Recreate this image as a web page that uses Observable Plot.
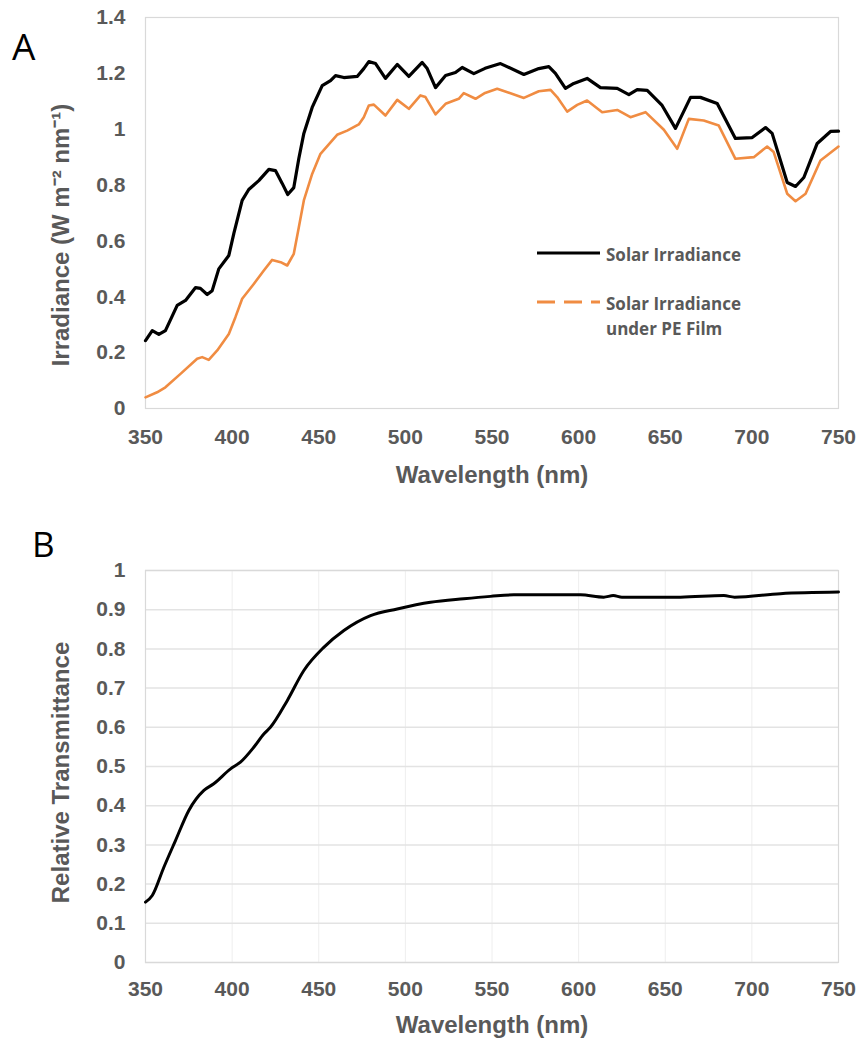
<!DOCTYPE html>
<html>
<head>
<meta charset="utf-8">
<script src="https://cdn.jsdelivr.net/npm/d3@7"></script>
<script src="https://cdn.jsdelivr.net/npm/@observablehq/plot@0.6"></script>
<style>
  html, body { margin: 0; padding: 0; background: #fff; }
  #wrap { position: relative; width: 865px; height: 1045px; overflow: hidden; font-family: "Liberation Sans", Arial, sans-serif; }
  .panel { position: absolute; left: 0; }
  .letter { position: absolute; font-family: "Open Sans", "Liberation Sans", sans-serif; font-weight: 400; color: #000; line-height: 1; }
  .legend { position: absolute; left: 537px; font-family: "Open Sans", sans-serif; font-weight: 700; font-size: 17px; color: #595959; }
  .legend .row { position: absolute; left: 0; white-space: nowrap; display: flex; align-items: flex-start; }
  .legend svg { display: block; margin-right: 6px; }
</style>
</head>
<body>
<div id="wrap">
  <div id="panelA" class="panel" style="top:0"></div>
  <div id="panelB" class="panel" style="top:500px"></div>
  <div class="letter" style="left:12px; top:27px; font-size:37px;">A</div>
  <div class="letter" style="left:32px; top:526px; font-size:35px;">B</div>
  <div class="legend" id="legend" style="top:242px;"></div>
</div>
<script>
// ---------- Data ----------
const xTicks = [350, 400, 450, 500, 550, 600, 650, 700, 750];
const yTicksA = [0, 0.2, 0.4, 0.6, 0.8, 1, 1.2, 1.4];
const yTicksB = [0, 0.1, 0.2, 0.3, 0.4, 0.5, 0.6, 0.7, 0.8, 0.9, 1];

const seriesNames = ["Solar Irradiance", "Solar Irradiance under PE Film"];

const solarWl = [350,353.9,357.7,361.5,368.3,373.1,378.9,381.7,385.6,388.5,392.3,398.1,401,405.8,409.6,415.4,421.2,425,428.9,432.1,435.6,438.5,441.4,446.2,452,456.8,459.7,464.5,472.2,476,478.9,482.8,488.5,495.3,502,509.7,512.6,517.4,523.2,528.9,532.8,539.5,546,554.9,568.4,577,582.8,586.6,592.4,597.2,604.9,612.6,622.3,629,633.8,639.6,648.2,655.9,664.6,670.3,680,690.5,700.2,707.9,711.7,720.4,725.2,730,737.7,745.4,750];
const solarVal = [0.243,0.279,0.265,0.279,0.369,0.387,0.433,0.43,0.408,0.422,0.5,0.548,0.627,0.745,0.784,0.816,0.856,0.852,0.806,0.766,0.791,0.895,0.985,1.078,1.156,1.174,1.192,1.185,1.189,1.217,1.242,1.235,1.182,1.232,1.189,1.239,1.217,1.149,1.192,1.203,1.221,1.199,1.218,1.235,1.196,1.217,1.224,1.2,1.146,1.164,1.182,1.149,1.146,1.124,1.142,1.139,1.085,1.003,1.114,1.114,1.092,0.967,0.97,1.006,0.985,0.809,0.795,0.827,0.949,0.992,0.993];

const peWl = [350,356.7,361.5,370.2,379.8,382.7,386.5,391.4,398.1,401.9,405.8,412.5,418.3,423.1,428,431.8,435.6,438.5,441.4,446.2,451,456.8,460.6,466.4,473.1,476,478.9,481.8,488.5,495.3,502,508.7,511.6,517.4,523.2,530.8,533.7,540.5,546,553,568.4,577,583.8,587.6,593.4,599.2,604.9,613.6,622.3,629.9,638.6,649.2,656.9,663.6,672.2,680.9,690.5,701.1,708.8,712.6,720.4,725.2,731,739.6,750];
const peVal = [0.04,0.058,0.076,0.124,0.178,0.184,0.174,0.208,0.267,0.327,0.393,0.446,0.494,0.532,0.524,0.512,0.554,0.649,0.745,0.84,0.912,0.953,0.98,0.995,1.017,1.043,1.085,1.088,1.049,1.105,1.073,1.121,1.115,1.053,1.091,1.109,1.129,1.109,1.13,1.145,1.112,1.136,1.141,1.115,1.063,1.087,1.103,1.061,1.069,1.043,1.061,0.998,0.93,1.037,1.031,1.013,0.894,0.9,0.938,0.918,0.769,0.742,0.769,0.888,0.938];

const transWl = [350,353.9,360.6,367.3,375,383.7,389.4,399.1,404.8,412.5,418.3,422.1,431.8,441.4,452.9,464.5,479.9,495.3,514.5,533.7,549.1,562.6,601.1,614.5,620,625,658.8,683.8,690,716.5,750];
const transVal = [0.154,0.171,0.243,0.311,0.388,0.439,0.456,0.494,0.511,0.549,0.583,0.6,0.668,0.745,0.804,0.847,0.885,0.902,0.919,0.928,0.934,0.938,0.938,0.932,0.936,0.932,0.932,0.936,0.932,0.941,0.945];

const colors = ["#000000", "#F08C42"];

// ---------- Build tables ----------
const solar = solarWl.map((w, i) => ({wl: w, v: solarVal[i]}));
const pe = peWl.map((w, i) => ({wl: w, v: peVal[i]}));
const trans = transWl.map((w, i) => ({wl: w, v: transVal[i]}));

const fmt = d => String(+d.toFixed(2));
const axisStyle = {
  fontFamily: "'Liberation Sans', Arial, sans-serif",
  fontSize: "21px",
  fontWeight: "bold",
  color: "#595959",
  background: "#fff",
  overflow: "visible"
};

// enlarge axis titles and optionally shift the y title along the axis
function styleLabels(svg, yShift) {
  d3.select(svg).selectAll('[aria-label="x-axis label"], [aria-label="y-axis label"]')
    .style("font-size", "24px");
  d3.select(svg).selectAll('[aria-label="y-axis label"]').each(function () {
    const t = this.getAttribute("transform") || "";
    this.setAttribute("transform", `translate(0,${yShift}) ${t}`);
  });
}

// ---------- Panel A ----------
const plotA = Plot.plot({
  width: 865, height: 500,
  marginLeft: 145, marginRight: 27, marginTop: 17, marginBottom: 92,
  style: axisStyle,
  x: {domain: [350, 750], ticks: xTicks, tickSize: 0, tickPadding: 21, tickFormat: fmt,
      label: "Wavelength (nm)", labelAnchor: "center", labelOffset: 74, labelArrow: "none"},
  y: {domain: [0, 1.4], ticks: yTicksA, tickSize: 0, tickPadding: 20, tickFormat: fmt,
      label: "Irradiance (W m\u207B\u00B2 nm\u207B\u00B9)", labelAnchor: "center", labelOffset: 94, labelArrow: "none"},
  marks: [
    Plot.frame({stroke: "#d9d9d9", strokeWidth: 1.2}),
    Plot.line(pe, {x: "wl", y: "v", stroke: colors[1], strokeWidth: 2.6, strokeLinejoin: "round"}),
    Plot.line(solar, {x: "wl", y: "v", stroke: colors[0], strokeWidth: 3.2, strokeLinejoin: "round"})
  ]
});
styleLabels(plotA, 22);
document.getElementById("panelA").appendChild(plotA);

// ---------- Panel B ----------
const plotB = Plot.plot({
  width: 865, height: 545,
  marginLeft: 145, marginRight: 27, marginTop: 70, marginBottom: 83,
  style: axisStyle,
  x: {domain: [350, 750], ticks: xTicks, tickSize: 0, tickPadding: 19, tickFormat: fmt,
      label: "Wavelength (nm)", labelAnchor: "center", labelOffset: 70, labelArrow: "none"},
  y: {domain: [0, 1], ticks: yTicksB, tickSize: 0, tickPadding: 20, tickFormat: fmt,
      label: "Relative Transmittance", labelAnchor: "center", labelOffset: 94, labelArrow: "none"},
  marks: [
    Plot.gridX(xTicks, {stroke: "#eeeeee", strokeOpacity: 1, strokeWidth: 1}),
    Plot.gridY(yTicksB, {stroke: "#e3e3e3", strokeOpacity: 1, strokeWidth: 1.5}),
    Plot.frame({stroke: "#d9d9d9", strokeWidth: 1.2}),
    Plot.line(trans, {x: "wl", y: "v", stroke: colors[0], strokeWidth: 3, curve: "monotone-x", strokeLinejoin: "round"})
  ]
});
styleLabels(plotB, 6);
document.getElementById("panelB").appendChild(plotB);

// ---------- Legend (panel A) ----------
const legend = document.getElementById("legend");
const rows = [
  {name: "Solar Irradiance", color: colors[0], dash: null, width: 3.2, top: 0},
  {name: "Solar Irradiance<br>under PE Film", color: colors[1], dash: "18 9", width: 3, top: 49}
];
rows.forEach(r => {
  const row = document.createElement("div");
  row.className = "row";
  row.style.top = r.top + "px";
  row.innerHTML = `<svg width="63" height="22"><line x1="0" x2="63" y1="11" y2="11" stroke="${r.color}" stroke-width="${r.width}" ${r.dash ? `stroke-dasharray="${r.dash}"` : ""}/></svg><div style="line-height:25px;">${r.name}</div>`;
  legend.appendChild(row);
});
</script>
</body>
</html>
